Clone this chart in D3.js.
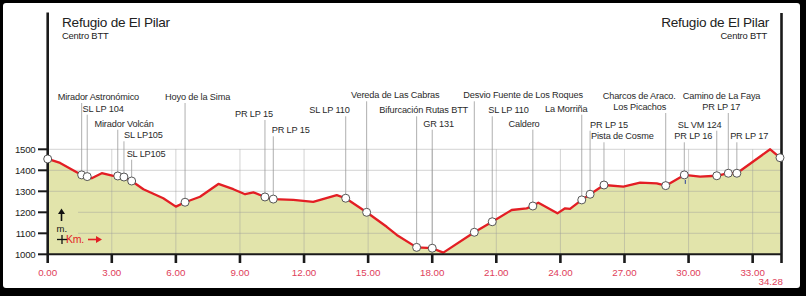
<!DOCTYPE html>
<html>
<head>
<meta charset="utf-8">
<script src="https://cdn.jsdelivr.net/npm/d3@7/dist/d3.min.js"></script>
<style>
  html, body { margin: 0; padding: 0; background: #000; }
  svg { display: block; font-family: "Liberation Sans", Arial, sans-serif; }
</style>
</head>
<body>
<div id="container"></div>
<script>
// elevation profile (km, m)
const profileKm = [0, 0.58, 1.59, 1.85, 2.06, 2.53, 3.07, 3.28, 3.57, 3.93, 4.48, 5.41, 6.0, 6.43, 7.13, 7.99, 8.69, 9.24, 9.63,
  10.17, 10.56, 11.5, 12.43, 13.53, 13.95, 14.93, 15.87, 16.34, 17.27, 18.0, 18.52, 19.97, 20.81, 21.72, 22.42, 22.71,
  22.97, 23.86, 24.22, 24.45, 25.0, 25.39, 26.04, 26.95, 27.73, 28.51, 28.93, 29.8, 30.54, 31.32, 31.86, 32.26, 33.82, 34.28];
const profileEle = [1454, 1435, 1378, 1370, 1362, 1386, 1373, 1373, 1368, 1349, 1310, 1267, 1227, 1248, 1274, 1335, 1310, 1286, 1295,
  1273, 1263, 1259, 1250, 1282, 1267, 1200, 1131, 1092, 1033, 1029, 1008, 1105, 1155, 1211, 1219, 1230,
  1246, 1195, 1219, 1216, 1259, 1286, 1330, 1322, 1341, 1338, 1327, 1378, 1370, 1374, 1386, 1386, 1500, 1460];

// waypoints
const waypointKm = [0, 1.59, 1.85, 3.28, 3.57, 3.93, 6.43, 10.17, 10.56, 13.95, 14.93, 17.27, 18.0, 19.97, 20.81, 22.71,
  25.0, 25.39, 26.04, 28.93, 29.8, 31.32, 31.86, 32.26, 34.28];
const waypointEle = [1454, 1378, 1370, 1373, 1368, 1349, 1248, 1273, 1263, 1267, 1200, 1033, 1029, 1105, 1155, 1230,
  1259, 1286, 1330, 1327, 1378, 1374, 1386, 1386, 1460];
const waypointLabels = [
  [], ["Mirador Astronómico"], ["SL LP 104"], ["Mirador Volcán"], ["SL LP105"], ["SL LP105"], ["Hoyo de la Sima"],
  ["PR LP 15"], ["PR LP 15"], ["SL LP 110"], ["Vereda de Las Cabras"], ["Bifurcación Rutas BTT"], ["GR 131"],
  ["Desvio Fuente de Los Roques"], ["SL LP 110"], ["Caldero"], ["La Morriña"], ["PR LP 15"], ["Pista de Cosme"],
  ["Charcos de Araco.", "Los Picachos"], ["PR LP 16"], ["SL VM 124"], ["Camino de La Faya", "PR LP 17"], ["PR LP 17"], []
];

const xTicks = [0, 3, 6, 9, 12, 15, 18, 21, 24, 27, 30, 33];
const yTicks = [1000, 1100, 1200, 1300, 1400, 1500];
const totalKm = 34.28;
const titleText = "Refugio de El Pilar";
const subtitleText = "Centro BTT";

// label layout: x offset from leader per line, baseline per line
const labelDx = [[], [-24], [-4.6], [-23.3], [0], [-5], [-20], [-30], [-1.6], [-36.4], [-15.6], [-37.3], [-9],
  [-11], [-4], [-24.4], [-36.7], [0], [-13], [-63, -52.4], [-10], [-39], [-45.6, -26], [-6.7], []];
const labelY = [[], [100], [111.7], [126.7], [138.3], [156.7], [100], [117], [133.3], [113.3], [98.3], [113.3], [126.7],
  [98.3], [113.3], [126.7], [111.7], [127.7], [139.3], [99.3, 110], [139.3], [127.7], [99.3, 110], [139.3], []];

const W = 806, H = 296;
const svg = d3.select('#container').append('svg').attr('width', W).attr('height', H);

// frame
svg.append('rect').attr('width', W).attr('height', H).attr('fill', '#000');
svg.append('rect').attr('x', 3).attr('y', 3).attr('width', 797).attr('height', 285).attr('rx', 3).attr('fill', '#fff');

const x = d3.scaleLinear().domain([0, totalKm]).range([47.7, 780]);
const y = d3.scaleLinear().domain([1000, 1500]).range([254.3, 149.3]);
const xRight = 781.5;

const pts = profileKm.map((k, i) => [k, profileEle[i]]);

// fill
svg.append('path')
  .attr('d', d3.area().x(d => x(d[0])).y0(y(1000)).y1(d => y(d[1]))(pts))
  .attr('fill', '#e2e4ab');

// grid
const grid = svg.append('g').attr('stroke', '#9a9a9a').attr('stroke-opacity', 0.55).attr('stroke-width', 0.8);
yTicks.slice(1).forEach(t => {
  grid.append('line').attr('x1', x(0)).attr('x2', xRight).attr('y1', y(t)).attr('y2', y(t));
});
xTicks.slice(1).forEach(t => {
  grid.append('line').attr('x1', x(t)).attr('x2', x(t)).attr('y1', y(1500)).attr('y2', y(1000));
});

// legend box masks the grid
svg.append('rect').attr('x', 49).attr('y', 203).attr('width', 29).attr('height', 46).attr('fill', '#e2e4ab');

// profile line
svg.append('path')
  .attr('d', d3.line().x(d => x(d[0])).y(d => y(d[1]))(pts))
  .attr('fill', 'none').attr('stroke', '#e31e24').attr('stroke-width', 2.3).attr('stroke-linejoin', 'round');

// axes
const ax = svg.append('g').attr('stroke', '#1a1a1a');
ax.append('line').attr('x1', 47.7).attr('x2', 47.7).attr('y1', 12.5).attr('y2', 263).attr('stroke-width', 2.6);
ax.append('line').attr('x1', xRight).attr('x2', xRight).attr('y1', 13).attr('y2', 263).attr('stroke-width', 2.6);
ax.append('line').attr('x1', 47.7).attr('x2', xRight).attr('y1', y(1000)).attr('y2', y(1000)).attr('stroke-width', 2);
xTicks.slice(1).forEach(t => {
  ax.append('line').attr('x1', x(t)).attr('x2', x(t)).attr('y1', y(1000)).attr('y2', 263).attr('stroke-width', 2.6);
});
yTicks.forEach(t => {
  ax.append('line').attr('x1', 38).attr('x2', 47.7).attr('y1', y(t)).attr('y2', y(t)).attr('stroke-width', 2);
});

svg.append('g').selectAll('text').data(yTicks).join('text')
  .attr('x', 35.5).attr('y', d => y(d) + 3.4).attr('text-anchor', 'end')
  .attr('font-size', 9.6).attr('fill', '#222').attr('letter-spacing', -0.2).text(d => d);

svg.append('g').selectAll('text').data(xTicks).join('text')
  .attr('x', d => x(d)).attr('y', 276).attr('text-anchor', 'middle')
  .attr('font-size', 9.8).attr('fill', '#e0405a').text(d3.format('.2f'));
svg.append('text').attr('x', 783).attr('y', 285).attr('text-anchor', 'end')
  .attr('font-size', 9.8).attr('fill', '#e0405a').text(totalKm.toFixed(2));

// titles
svg.append('text').attr('x', 62).attr('y', 27).attr('font-size', 13.6).attr('letter-spacing', -0.25).attr('fill', '#222').text(titleText);
svg.append('text').attr('x', 62).attr('y', 39).attr('font-size', 9.4).attr('letter-spacing', -0.2).attr('fill', '#222').text(subtitleText);
svg.append('text').attr('x', 769).attr('y', 27).attr('text-anchor', 'end').attr('font-size', 13.6).attr('letter-spacing', -0.25).attr('fill', '#222').text(titleText);
svg.append('text').attr('x', 767).attr('y', 39).attr('text-anchor', 'end').attr('font-size', 9.4).attr('letter-spacing', -0.2).attr('fill', '#222').text(subtitleText);

// waypoint labels + leaders
const labels = svg.append('g');
waypointKm.forEach((k, i) => {
  const lines = waypointLabels[i];
  if (!lines.length) return;
  const lx = x(k);
  const lastY = labelY[i][lines.length - 1];
  labels.append('line').attr('x1', lx).attr('x2', lx).attr('y1', lastY + 3).attr('y2', y(waypointEle[i]) - 3)
    .attr('stroke', '#9a9a9a').attr('stroke-width', 0.8);
  lines.forEach((t, j) => {
    labels.append('text').attr('x', lx + labelDx[i][j]).attr('y', labelY[i][j])
      .attr('font-size', 9.2).attr('letter-spacing', -0.15).attr('fill', '#2a2a2a').text(t);
  });
});

// small blue mark under PR LP 16
const iPR16 = 20;
svg.append('line').attr('x1', x(waypointKm[iPR16]) + 1).attr('x2', x(waypointKm[iPR16]) + 1)
  .attr('y1', y(waypointEle[iPR16]) + 5).attr('y2', y(waypointEle[iPR16]) + 9)
  .attr('stroke', '#2a3f9a').attr('stroke-width', 1);

// waypoint circles
svg.append('g').selectAll('circle').data(waypointKm).join('circle')
  .attr('cx', d => x(d)).attr('cy', (d, i) => y(waypointEle[i])).attr('r', 4)
  .attr('fill', '#fff').attr('stroke', '#444').attr('stroke-width', 0.9);

// legend
const lg = svg.append('g');
lg.append('line').attr('x1', 61.5).attr('x2', 61.5).attr('y1', 213).attr('y2', 221).attr('stroke', '#111').attr('stroke-width', 1.6);
lg.append('path').attr('d', 'M61.5,208.5 L58,214 L65,214 Z').attr('fill', '#111');
lg.append('text').attr('x', 56.5).attr('y', 232).attr('font-size', 9.5).attr('fill', '#111').text('m.');
lg.append('line').attr('x1', 57).attr('x2', 67).attr('y1', 239.5).attr('y2', 239.5).attr('stroke', '#111').attr('stroke-width', 1.3);
lg.append('line').attr('x1', 62).attr('x2', 62).attr('y1', 235).attr('y2', 244).attr('stroke', '#111').attr('stroke-width', 1.3);
lg.append('text').attr('x', 66).attr('y', 243).attr('font-size', 10.5).attr('letter-spacing', -0.3).attr('fill', '#e31e24').text('Km.');
lg.append('line').attr('x1', 88).attr('x2', 97).attr('y1', 239.5).attr('y2', 239.5).attr('stroke', '#e31e24').attr('stroke-width', 1.6);
lg.append('path').attr('d', 'M102,239.5 L96,236 L96,243 Z').attr('fill', '#e31e24');
</script>
</body>
</html>
